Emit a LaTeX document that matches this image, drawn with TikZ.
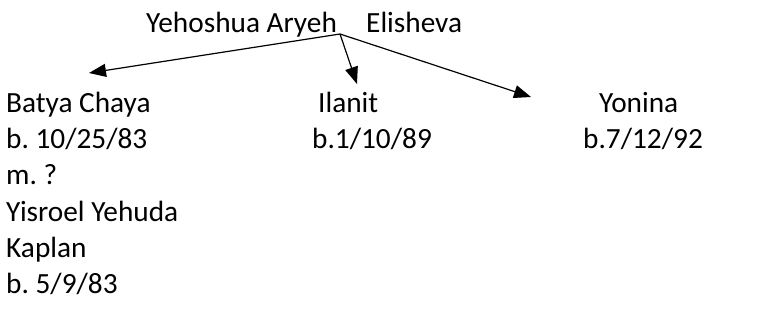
\documentclass[tikz,border=0pt]{standalone}
\usepackage{fontspec}
\setmainfont{Carlito}
\usetikzlibrary{arrows.meta}
\frenchspacing
\begin{document}
\begin{tikzpicture}[x=1pt,y=-1pt]

      \useasboundingbox (0,0) rectangle (782,325);

      \begin{scope}[every node/.style={anchor=base west,inner sep=0pt,font=\fontsize{29.3}{36.4}\selectfont}]
        \node (father)  at (146,32)  {Yehoshua Aryeh};
        \node (mother)  at (366,32)  {Elisheva};
        \node (batya)   at (6,112)   {Batya Chaya};
        \node (batyab)  at (6,148)   {b. 10/25/83};
        \node (batyam)  at (6,184)   {m. ?};
        \node (yisroel) at (6,221)   {Yisroel Yehuda};
        \node (kaplan)  at (6,257)   {Kaplan};
        \node (yisb)    at (6,293)   {b. 5/9/83};
        \node (ilanit)  at (318,112) {Ilanit};
        \node (ilanitb) at (312,148) {b.1/10/89};
        \node (yonina)  at (599,112) {Yonina};
        \node (yoninab) at (583,148) {b.7/12/92};
      \end{scope}

      \coordinate (root)  at (340,34);
      \coordinate (tipb)  at (89,73);
      \coordinate (tipi)  at (357,84);
      \coordinate (tipy)  at (531,97);

      \begin{scope}[every edge/.style={draw,line width=1.2pt,-{Triangle[length=17pt,width=13pt]}}]
        \path (root) edge (tipb);
        \path (root) edge (tipi);
        \path (root) edge (tipy);
      \end{scope}

    \end{tikzpicture}
\end{document}
